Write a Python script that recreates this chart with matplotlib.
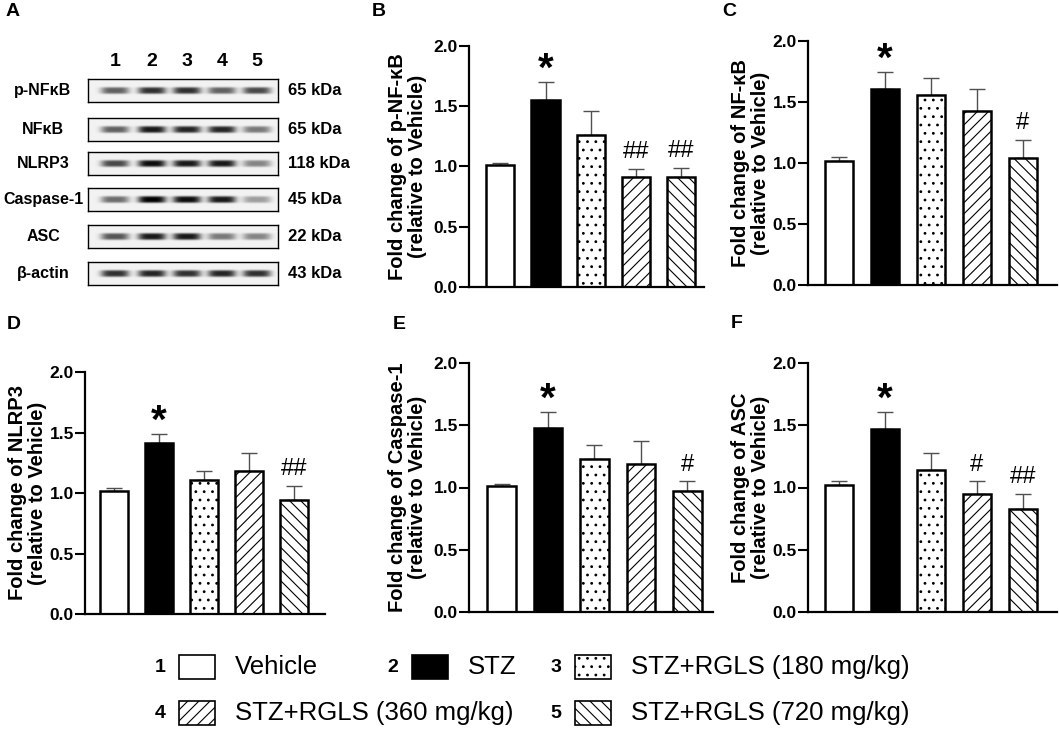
import numpy as np
import matplotlib
matplotlib.use('Agg')
import matplotlib.pyplot as plt
from matplotlib.patches import Rectangle

plt.rcParams['font.family'] = ['Liberation Sans', 'DejaVu Sans']
plt.rcParams['hatch.linewidth'] = 0.8

W, H = 1059, 734

# groups
lane_nums = ['1', '2', '3', '4', '5']
groups = ['Vehicle', 'STZ', 'STZ+RGLS (180 mg/kg)', 'STZ+RGLS (360 mg/kg)', 'STZ+RGLS (720 mg/kg)']
faces = ['white', 'black', 'white', 'white', 'white']
hatches = ['', '', '..', '///', '\\\\\\']

# western blot (panel A): rough band darkness per lane
blot_names = ['p-NFκB', 'NFκB', 'NLRP3', 'Caspase-1', 'ASC', 'β-actin']
blot_kda = ['65 kDa', '65 kDa', '118 kDa', '45 kDa', '22 kDa', '43 kDa']
blot_bands = [
    [0.60, 0.80, 0.80, 0.60, 0.70],
    [0.60, 0.90, 0.85, 0.85, 0.50],
    [0.70, 0.95, 0.90, 0.90, 0.45],
    [0.55, 1.00, 0.95, 0.90, 0.35],
    [0.65, 0.90, 0.90, 0.50, 0.45],
    [0.80, 0.85, 0.80, 0.85, 0.80],
]

# fold change (mean) and upper error, panels B-F
pnfkb_mean = [1.01, 1.55, 1.26, 0.91, 0.91]
pnfkb_err = [0.02, 0.15, 0.20, 0.07, 0.08]
nfkb_mean = [1.02, 1.61, 1.56, 1.43, 1.04]
nfkb_err = [0.03, 0.14, 0.14, 0.18, 0.15]
nlrp3_mean = [1.02, 1.41, 1.11, 1.18, 0.94]
nlrp3_err = [0.02, 0.08, 0.07, 0.15, 0.12]
casp1_mean = [1.01, 1.48, 1.23, 1.19, 0.97]
casp1_err = [0.02, 0.13, 0.11, 0.18, 0.08]
asc_mean = [1.02, 1.47, 1.14, 0.95, 0.83]
asc_err = [0.03, 0.14, 0.14, 0.10, 0.12]

pnfkb_marks = ['', '*', '', '##', '##']
nfkb_marks = ['', '*', '', '', '#']
nlrp3_marks = ['', '*', '', '', '##']
casp1_marks = ['', '*', '', '', '#']
asc_marks = ['', '*', '', '#', '##']

fig = plt.figure(figsize=(W / 100, H / 100), dpi=100)


def px_axes(left, top, right, bottom):
    return fig.add_axes([left / W, 1 - bottom / H, (right - left) / W, (bottom - top) / H])


# ---- panel A: blot
blot_tops = [79, 118, 152, 188, 225, 262]
lane_x = [27, 64, 99, 134, 169]
bx0, bx1 = 88, 278
for name, kda, bands, top in zip(blot_names, blot_kda, blot_bands, blot_tops):
    ax = px_axes(bx0, top, bx1, top + 23)
    xs = np.linspace(0, bx1 - bx0, 760)
    ys = np.linspace(0, 23, 92)
    X, Y = np.meshgrid(xs, ys)
    img = np.full(X.shape, 0.95)
    for xc, k in zip(lane_x, bands):
        img -= 0.95 * k * np.exp(-((X - xc) / 14.0) ** 4 - ((Y - 11.5) / 3.4) ** 4)
    ax.imshow(np.clip(img, 0, 1), cmap='gray', vmin=0, vmax=1,
              extent=[0, bx1 - bx0, 23, 0], aspect='auto')
    ax.set_xticks([])
    ax.set_yticks([])
    for s in ax.spines.values():
        s.set_linewidth(1.0)
    fig.text(43 / W, 1 - (top + 11.5) / H, name, fontsize=11.5, fontweight='bold', ha='center', va='center')
    fig.text(288 / W, 1 - (top + 11.5) / H, kda, fontsize=12, fontweight='bold', ha='left', va='center')

for n, xc in zip(lane_nums, lane_x):
    fig.text((bx0 + xc) / W, 1 - 61 / H, n, fontsize=14, fontweight='bold', ha='center', va='center')


# ---- panels B-F
def bar_panel(box, xlim, means, errs, marks, protein, label_dx):
    left, top, right, bottom = box
    ax = px_axes(left, top, right, bottom)
    x = np.arange(len(means))
    ax.errorbar(x, means, yerr=[np.zeros(len(errs)), errs], fmt='none', ecolor='#505050',
                elinewidth=1.0, capsize=6, capthick=1.0, zorder=1)
    for i in range(len(means)):
        ax.bar(x[i], means[i], width=0.62, color=faces[i], edgecolor='black',
               linewidth=1.8, hatch=hatches[i], zorder=2)
    for i, m in enumerate(marks):
        if not m:
            continue
        yv = means[i] + errs[i]
        if m == '*':
            ax.annotate(m, (x[i], yv), xytext=(0, -5), textcoords='offset points',
                        ha='center', va='bottom', fontsize=29, fontweight='bold')
        else:
            ax.annotate(m, (x[i], yv), xytext=(0, 4), textcoords='offset points',
                        ha='center', va='bottom', fontsize=17)
    ax.set_xlim(*xlim)
    ax.set_ylim(0, 2)
    ax.set_xticks([])
    ax.set_yticks([0, 0.5, 1.0, 1.5, 2.0])
    ax.set_yticklabels(['0.0', '0.5', '1.0', '1.5', '2.0'], fontsize=12.5, fontweight='bold')
    ax.tick_params(axis='y', length=7, width=1.5, pad=1)
    for s in ['top', 'right']:
        ax.spines[s].set_visible(False)
    for s in ['left', 'bottom']:
        ax.spines[s].set_linewidth(1.6)
    ax.set_ylabel('Fold change of ' + protein + '\n(relative to Vehicle)',
                  fontsize=14.5, fontweight='bold', linespacing=1.05)
    ax.yaxis.set_label_coords(-label_dx / (right - left), 0.5)
    return ax


bar_panel((469, 46, 704, 287), (-0.69, 4.5), pnfkb_mean, pnfkb_err, pnfkb_marks, 'p-NF-κB', 42)
bar_panel((808, 41, 1057, 285), (-0.67, 4.74), nfkb_mean, nfkb_err, nfkb_marks, 'NF-κB', 38)
bar_panel((85, 372, 325, 614), (-0.64, 4.68), nlrp3_mean, nlrp3_err, nlrp3_marks, 'NLRP3', 38)
bar_panel((469, 363, 713, 612), (-0.7, 4.55), casp1_mean, casp1_err, casp1_marks, 'Caspase-1', 42)
bar_panel((808, 363, 1057, 612), (-0.67, 4.74), asc_mean, asc_err, asc_marks, 'ASC', 38)

# panel letters
for letter, (lx, ly) in zip('ABCDEF', [(13, 12), (379, 12), (729, 11), (14, 324), (399, 325), (737, 323)]):
    fig.text(lx / W, 1 - ly / H, letter, fontsize=14, fontweight='bold', ha='center', va='center')

# ---- legend
leg_pos = [(160, 667), (393, 667), (556, 667), (160, 713), (556, 713)]
for num, name, fc, ht, (nx, ny) in zip(lane_nums, groups, faces, hatches, leg_pos):
    fig.text(nx / W, 1 - ny / H, num, fontsize=14, fontweight='bold', ha='center', va='center')
    bx = nx + 19
    rect = Rectangle((bx / W, 1 - (ny + 12) / H), 36 / W, 24 / H, transform=fig.transFigure,
                     facecolor=fc, edgecolor='black', linewidth=1.2, hatch=ht)
    fig.add_artist(rect)
    fig.text((bx + 56) / W, 1 - ny / H, name, fontsize=18.5, ha='left', va='center')

fig.savefig('out.png', dpi=100)
